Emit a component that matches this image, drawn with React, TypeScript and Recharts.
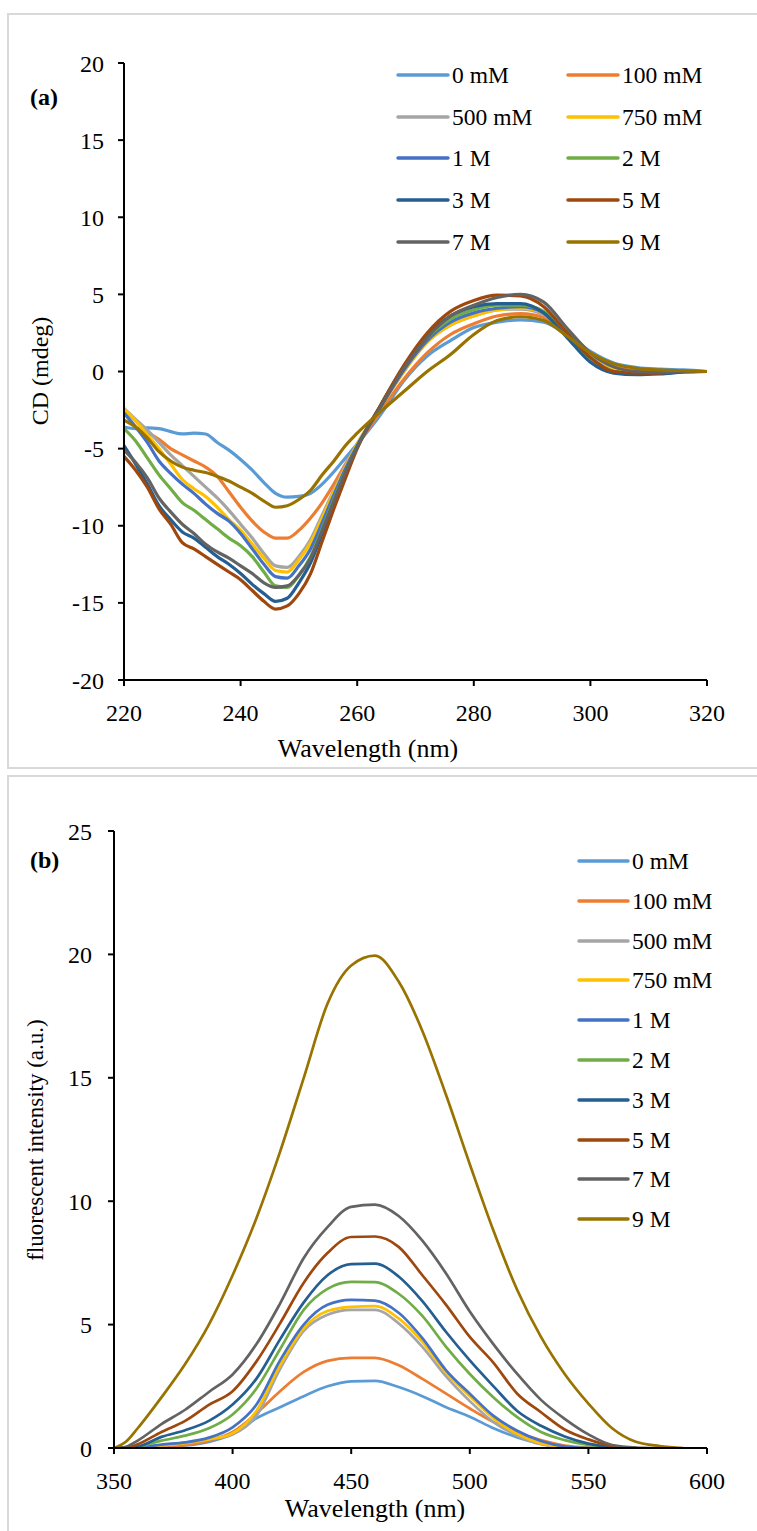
import { LineChart, Line, XAxis, YAxis } from "recharts";

const FONT = "'Liberation Serif', Tinos, 'Times New Roman', 'DejaVu Serif', serif";

const seriesNames = ["0 mM", "100 mM", "500 mM", "750 mM", "1 M", "2 M", "3 M", "5 M", "7 M", "9 M"];
const seriesColors = ["#5B9BD5", "#ED7D31", "#A5A5A5", "#FFC000", "#4472C4", "#70AD47", "#255E91", "#9E480E", "#636363", "#997300"];

// (a) CD spectra
const cdWavelength = [220, 222, 224, 226, 228, 230, 232, 234, 236, 238, 240, 242, 244, 246, 248, 250, 252, 254, 256, 258, 260, 264, 268, 272, 276, 280, 284, 288, 292, 296, 300, 304, 308, 312, 316, 320];
const cd0mM = [-3.6, -3.7, -3.65, -3.7, -3.9, -4.05, -4.0, -4.05, -4.6, -5.1, -5.7, -6.4, -7.2, -7.9, -8.15, -8.1, -7.9, -7.3, -6.5, -5.6, -4.7, -2.8, -0.6, 1.0, 2.0, 2.85, 3.2, 3.35, 3.2, 2.4, 1.3, 0.55, 0.25, 0.15, 0.1, 0];
const cd100mM = [-2.5, -3.2, -3.9, -4.4, -5.0, -5.4, -5.8, -6.2, -6.8, -7.8, -8.8, -9.7, -10.4, -10.8, -10.8, -10.3, -9.5, -8.5, -7.3, -6.0, -4.8, -2.6, -0.5, 1.2, 2.4, 3.1, 3.6, 3.75, 3.5, 2.4, 1.1, 0.3, 0.05, 0, 0, 0];
const cd500mM = [-2.4, -3.1, -3.8, -4.6, -5.4, -6.1, -6.8, -7.5, -8.2, -9.0, -9.9, -10.8, -11.8, -12.6, -12.7, -12.0, -10.9, -9.3, -7.7, -6.1, -4.7, -2.3, 0.0, 1.9, 3.0, 3.6, 4.0, 4.05, 3.7, 2.5, 1.0, 0.1, -0.1, -0.1, 0, 0];
const cd750mM = [-2.4, -3.2, -4.1, -5.0, -6.0, -7.0, -7.6, -8.1, -8.8, -9.6, -10.3, -11.2, -12.1, -12.9, -13.0, -12.2, -11.1, -9.5, -7.8, -6.2, -4.7, -2.3, 0.0, 1.9, 3.0, 3.6, 4.0, 4.1, 3.8, 2.5, 1.0, 0.1, -0.1, -0.1, 0, 0];
const cd1M = [-2.7, -3.6, -4.6, -5.8, -6.6, -7.3, -7.9, -8.6, -9.2, -9.7, -10.5, -11.5, -12.5, -13.3, -13.4, -12.6, -11.5, -9.8, -8.0, -6.3, -4.8, -2.3, 0.1, 2.0, 3.2, 3.8, 4.1, 4.2, 3.8, 2.4, 0.9, 0.0, -0.15, -0.1, 0, 0];
const cd2M = [-3.7, -4.5, -5.6, -6.7, -7.6, -8.5, -9.0, -9.6, -10.2, -10.8, -11.3, -12.0, -13.0, -13.9, -14.0, -13.2, -12.0, -10.2, -8.3, -6.5, -4.9, -2.2, 0.3, 2.2, 3.4, 4.0, 4.3, 4.3, 3.9, 2.4, 0.8, 0.0, -0.15, -0.1, 0, 0];
const cd3M = [-4.8, -6.0, -7.3, -8.7, -9.6, -10.4, -10.8, -11.4, -12.0, -12.5, -13.1, -13.8, -14.4, -14.9, -14.7, -13.7, -12.4, -10.5, -8.5, -6.6, -4.9, -2.2, 0.3, 2.3, 3.6, 4.2, 4.4, 4.4, 3.8, 2.2, 0.6, -0.1, -0.2, -0.15, -0.05, 0];
const cd5M = [-5.5, -6.4, -7.5, -8.9, -9.9, -11.1, -11.5, -12.0, -12.5, -13.0, -13.5, -14.2, -14.9, -15.4, -15.2, -14.4, -13.1, -11.0, -8.9, -6.9, -5.0, -2.2, 0.4, 2.5, 3.9, 4.6, 4.95, 4.9, 4.2, 2.5, 0.9, 0.0, -0.1, -0.1, 0, 0];
const cd7M = [-5.1, -5.9, -6.9, -8.2, -9.1, -9.9, -10.5, -11.2, -11.7, -12.1, -12.6, -13.1, -13.7, -14.0, -13.9, -13.2, -12.1, -10.3, -8.4, -6.5, -4.9, -2.3, 0.2, 2.2, 3.6, 4.3, 4.8, 5.0, 4.5, 2.8, 1.2, 0.3, 0.0, -0.05, 0, 0];
const cd9M = [-3.15, -3.6, -4.3, -5.2, -5.8, -6.2, -6.4, -6.55, -6.8, -7.1, -7.5, -7.9, -8.4, -8.8, -8.7, -8.3, -7.7, -6.7, -5.8, -4.8, -4.0, -2.6, -1.3, 0.0, 1.1, 2.4, 3.3, 3.55, 3.3, 2.3, 1.2, 0.5, 0.2, 0.1, 0.05, 0];
const cdXTicks = [220, 240, 260, 280, 300, 320];
const cdYTicks = [-20, -15, -10, -5, 0, 5, 10, 15, 20];

// (b) fluorescence spectra
const flWavelength = [350, 355, 360, 370, 380, 390, 400, 410, 420, 430, 440, 450, 460, 470, 480, 490, 500, 510, 520, 530, 540, 550, 560, 570, 580, 590, 600];
const fl0mM = [0, 0, 0, 0.05, 0.1, 0.25, 0.57, 1.2, 1.65, 2.1, 2.5, 2.7, 2.72, 2.47, 2.1, 1.65, 1.27, 0.8, 0.43, 0.17, 0.02, 0];
const fl100mM = [0, 0, 0, 0.05, 0.12, 0.3, 0.65, 1.4, 2.3, 3.08, 3.53, 3.65, 3.65, 3.35, 2.8, 2.2, 1.6, 1.05, 0.64, 0.32, 0.1, 0.02, 0];
const fl500mM = [0, 0, 0, 0.1, 0.2, 0.35, 0.55, 1.3, 3.2, 4.75, 5.4, 5.6, 5.6, 5.05, 4.1, 2.9, 1.9, 1.05, 0.5, 0.15, 0.03, 0];
const fl750mM = [0, 0, 0, 0.1, 0.2, 0.35, 0.6, 1.5, 3.35, 4.85, 5.55, 5.72, 5.75, 5.25, 4.3, 3.05, 2.1, 1.2, 0.57, 0.18, 0.03, 0];
const fl1M = [0, 0, 0.02, 0.14, 0.23, 0.42, 0.84, 1.75, 3.55, 5.0, 5.8, 6.0, 5.97, 5.48, 4.45, 3.15, 2.2, 1.3, 0.7, 0.28, 0.06, 0];
const fl2M = [0, 0, 0.05, 0.3, 0.5, 0.8, 1.36, 2.4, 4.0, 5.6, 6.45, 6.73, 6.72, 6.25, 5.35, 4.1, 3.0, 2.05, 1.25, 0.65, 0.32, 0.12, 0.02, 0];
const fl3M = [0, 0, 0.05, 0.45, 0.72, 1.1, 1.76, 2.8, 4.4, 5.9, 7.0, 7.45, 7.47, 6.95, 5.95, 4.7, 3.55, 2.5, 1.5, 0.9, 0.47, 0.18, 0.04, 0];
const fl5M = [0, 0, 0.15, 0.65, 1.1, 1.75, 2.3, 3.5, 5.05, 6.7, 7.9, 8.55, 8.57, 8.15, 7.0, 5.8, 4.5, 3.45, 2.2, 1.45, 0.75, 0.35, 0.08, 0];
const fl7M = [0, 0.05, 0.3, 0.97, 1.55, 2.27, 2.98, 4.2, 5.85, 7.7, 8.95, 9.77, 9.86, 9.4, 8.4, 7.07, 5.53, 4.2, 3.0, 1.95, 1.18, 0.55, 0.12, 0.02, 0];
const fl9M = [0, 0.25, 0.8, 2.05, 3.4, 5.0, 7.0, 9.3, 12.0, 15.0, 18.0, 19.55, 19.95, 18.9, 16.9, 14.3, 11.5, 8.8, 6.4, 4.5, 3.0, 1.8, 0.8, 0.25, 0.08, 0];
const flXTicks = [350, 400, 450, 500, 550, 600];
const flYTicks = [0, 5, 10, 15, 20, 25];

const cdSeries = [cd0mM, cd100mM, cd500mM, cd750mM, cd1M, cd2M, cd3M, cd5M, cd7M, cd9M];
const flSeries = [fl0mM, fl100mM, fl500mM, fl750mM, fl1M, fl2M, fl3M, fl5M, fl7M, fl9M];

function buildRows(x: number[], series: number[][]) {
  return x.map((nm, i) => {
    const row: Record<string, number | undefined> = { nm };
    series.forEach((s, k) => {
      row[`s${k}`] = s[i];
    });
    return row;
  });
}

const cdRows = buildRows(cdWavelength, cdSeries);
const flRows = buildRows(flWavelength, flSeries);

const tickStyle = { fill: "#000", fontSize: 24, fontFamily: FONT };
const axisLine = { stroke: "#000", strokeWidth: 2 };

function Title({ x, y, text, size, angle }: { x: number; y: number; text: string; size: number; angle?: number }) {
  return (
    <text
      x={x}
      y={y}
      textAnchor="middle"
      dominantBaseline="central"
      transform={angle ? `rotate(${angle} ${x} ${y})` : undefined}
      fontSize={size}
      fontFamily={FONT}
      fill="#000"
    >
      {text}
    </text>
  );
}

function LegendItem({ x, y, i, lineLen, text }: { x: number; y: number; i: number; lineLen: number; text: string }) {
  return (
    <div style={{ position: "absolute", left: x, top: y - 15, height: 30, display: "flex", alignItems: "center" }}>
      <svg width={lineLen + 4} height={8} style={{ display: "block" }}>
        <line x1={2} y1={4} x2={lineLen + 2} y2={4} stroke={seriesColors[i]} strokeWidth={3.5} strokeLinecap="round" />
      </svg>
      <span style={{ marginLeft: 2, fontSize: 23.5, fontFamily: FONT, color: "#000", whiteSpace: "nowrap", lineHeight: "30px" }}>{text}</span>
    </div>
  );
}

export default function App() {
  return (
    <div style={{ position: "absolute", left: 0, top: 0, width: 757, height: 1531, background: "#fff", overflow: "hidden", fontFamily: FONT }}>
      {/* panel frames */}
      <div style={{ position: "absolute", left: 7, top: 13, width: 770, height: 752, border: "2px solid #D9D9D9" }} />
      <div style={{ position: "absolute", left: 7, top: 775, width: 770, height: 780, border: "2px solid #D9D9D9" }} />

      {/* (a) CD */}
      <div style={{ position: "absolute", left: 0, top: 0 }}>
        <LineChart width={757} height={770} data={cdRows} margin={{ top: 63, right: 50, left: 0, bottom: 30 }}>
          <XAxis
            type="number"
            dataKey="nm"
            domain={[220, 320]}
            ticks={cdXTicks}
            height={60}
            tick={tickStyle}
            tickSize={6}
            tickMargin={18}
            axisLine={axisLine}
            tickLine={axisLine}
            label={{ content: () => <Title x={368} y={748} text="Wavelength (nm)" size={26} /> }}
          />
          <YAxis
            type="number"
            domain={[-20, 20]}
            ticks={cdYTicks}
            width={124}
            tick={tickStyle}
            tickSize={6}
            tickMargin={14}
            axisLine={axisLine}
            tickLine={axisLine}
            allowDataOverflow
            label={{ content: () => <Title x={40} y={371} text="CD (mdeg)" size={24} angle={-90} /> }}
          />
          {seriesNames.map((name, k) => (
            <Line
              key={name}
              type="monotone"
              dataKey={`s${k}`}
              name={name}
              stroke={seriesColors[k]}
              strokeWidth={3.2}
              dot={false}
              activeDot={false}
              isAnimationActive={false}
            />
          ))}
        </LineChart>
      </div>
      <div style={{ position: "absolute", left: 30, top: 82, fontSize: 24, fontWeight: "bold", fontFamily: FONT, lineHeight: "30px" }}>(a)</div>
      {seriesNames.map((name, k) => (
        <LegendItem key={name} i={k} text={name} lineLen={50} x={396} y={75 + Math.floor(k / 2) * 41.7} />
      )).map((el, k) => (k % 2 === 0 ? el : <LegendItem key={seriesNames[k]} i={k} text={seriesNames[k]} lineLen={50} x={566} y={75 + Math.floor(k / 2) * 41.7} />))}

      {/* (b) fluorescence */}
      <div style={{ position: "absolute", left: 0, top: 770 }}>
        <LineChart width={757} height={760} data={flRows} margin={{ top: 61, right: 50, left: 0, bottom: 22 }}>
          <XAxis
            type="number"
            dataKey="nm"
            domain={[350, 600]}
            ticks={flXTicks}
            height={60}
            tick={tickStyle}
            tickSize={6}
            tickMargin={18}
            axisLine={axisLine}
            tickLine={axisLine}
            label={{ content: () => <Title x={375} y={738} text="Wavelength (nm)" size={26} /> }}
          />
          <YAxis
            type="number"
            domain={[0, 25]}
            ticks={flYTicks}
            width={114}
            tick={tickStyle}
            tickSize={6}
            tickMargin={16}
            axisLine={axisLine}
            tickLine={axisLine}
            allowDataOverflow
            label={{ content: () => <Title x={35} y={370} text="fluorescent intensity (a.u.)" size={23} angle={-90} /> }}
          />
          {seriesNames.map((name, k) => (
            <Line
              key={name}
              type="monotone"
              dataKey={`s${k}`}
              name={name}
              stroke={seriesColors[k]}
              strokeWidth={2.7}
              dot={false}
              activeDot={false}
              isAnimationActive={false}
            />
          ))}
        </LineChart>
      </div>
      <div style={{ position: "absolute", left: 30, top: 845, fontSize: 24, fontWeight: "bold", fontFamily: FONT, lineHeight: "30px" }}>(b)</div>
      {seriesNames.map((name, k) => (
        <LegendItem key={name} i={k} text={name} lineLen={49} x={577} y={861 + k * 39.8} />
      ))}
    </div>
  );
}
